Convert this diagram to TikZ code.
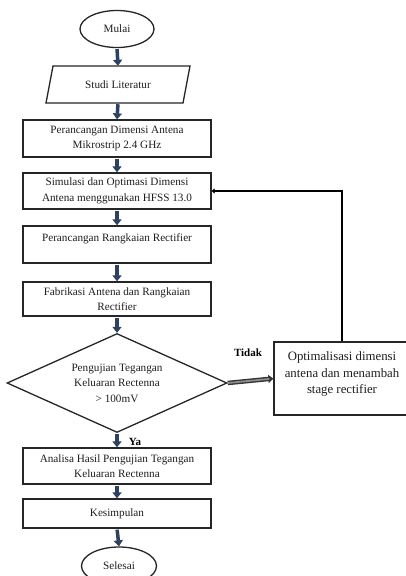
\documentclass[tikz,border=0pt]{standalone}
\usepackage{fontspec}
\setmainfont{Liberation Serif}
\usetikzlibrary{shapes.geometric,arrows.meta}
\definecolor{arrnavy}{HTML}{2E4260}
\definecolor{txtgray}{HTML}{1E1E1E}
\begin{document}
\begin{tikzpicture}[x=1pt,y=-1pt,
  every node/.style={font=\fontsize{11.2}{15.5}\selectfont, text=txtgray},
  proc/.style={draw=black!85, line width=1.3pt, rectangle, minimum width=188pt, inner sep=0pt, align=center},
  term/.style={draw=black!85, line width=1.3pt, ellipse, minimum width=74pt, minimum height=37pt, inner sep=0pt},
  flowarr/.style={draw=arrnavy, line width=3.5pt, -{Triangle[width=9pt,length=6pt]}, shorten <=1pt},
  lbl/.style={font=\fontsize{11}{13}\selectfont\bfseries, text=black}
]
\useasboundingbox (0,0) rectangle (406,576);
\clip (0,0) rectangle (406,576);
\fill[white] (0,0) rectangle (406,576);

% terminals
\node[term] (mulai) at (117,29) {Mulai};
\node[term, minimum width=75pt, minimum height=38pt] (selesai) at (119,566) {Selesai};

% parallelogram
\node[minimum width=137pt, minimum height=37pt, inner sep=0pt] (lit) at (118,84.5) {Studi Literatur};
\draw[black!85, line width=1.3pt] (46,103) -- (53,66) -- (190,66) -- (183,103) -- cycle;

% process boxes
\node[proc, minimum height=37pt] (p1) at (117,138.5) {Perancangan Dimensi Antena\\Mikrostrip 2.4 GHz};
\node[proc, minimum height=36pt] (p2) at (117,191) {Simulasi dan Optimasi Dimensi\\Antena menggunakan HFSS 13.0};
\node[proc, minimum height=37pt] (p3) at (117,244.5) {};
\node (p3t) at (117,239) {Perancangan Rangkaian Rectifier};
\node[proc, minimum height=34pt] (p4) at (117,299) {Fabrikasi Antena dan Rangkaian\\Rectifier};

% decision
\node[diamond, draw=black!85, line width=1.3pt, minimum width=220pt, minimum height=99pt, inner sep=0pt, aspect=2.22] (dec) at (117,383) {};
\node (dect) at (117,383) [align=center] {Pengujian Tegangan\\Keluaran Rectenna\\> 100mV};

\node[proc, minimum height=36pt] (p5) at (117,466) {Analisa Hasil Pengujian Tegangan\\Keluaran Rectenna};
\node[proc, minimum height=29pt] (p6) at (117,513.5) {Kesimpulan};

% optimisation box
\node[draw=black!85, line width=1.3pt, rectangle, minimum width=136pt, minimum height=73pt, inner sep=0pt] (opt) at (342,378.5) {};
\node[align=center, font=\fontsize{12.8}{16.5}\selectfont] (optt) at (342,374) {Optimalisasi dimensi\\antena dan menambah\\stage rectifier};

% flow arrows
\draw[flowarr] (mulai.south) -- (lit.north);
\draw[flowarr] (lit.south) -- (p1.north);
\draw[flowarr] (p1.south) -- (p2.north);
\draw[flowarr] (p2.south) -- (p3.north);
\draw[flowarr] (p3.south) -- (p4.north);
\draw[flowarr] (p4.south) -- (dec.north);
\draw[flowarr] (dec.south) -- (p5.north);
\draw[flowarr] (p5.south) -- (p6.north);
\draw[flowarr] (p6.south) -- (selesai.north);

% Tidak arrow (double line)
\draw[draw=black!80, line width=4.5pt, -{Triangle[width=8pt,length=5pt]}] (dec.east) -- (opt.west);
\draw[draw=black!45, line width=1.8pt, shorten >=4pt] (dec.east) -- (opt.west);

% feedback
\coordinate (fbc) at (opt.north |- p2.east);
\draw[black, line width=2.6pt, -{Triangle[width=5pt,length=3pt]}] (opt.north) -- (fbc) -- (p2.east);

% labels
\node[lbl] (tidak) at (248,353) {Tidak};
\node[lbl] (ya) at (135,442) {Ya};
\end{tikzpicture}
\end{document}
